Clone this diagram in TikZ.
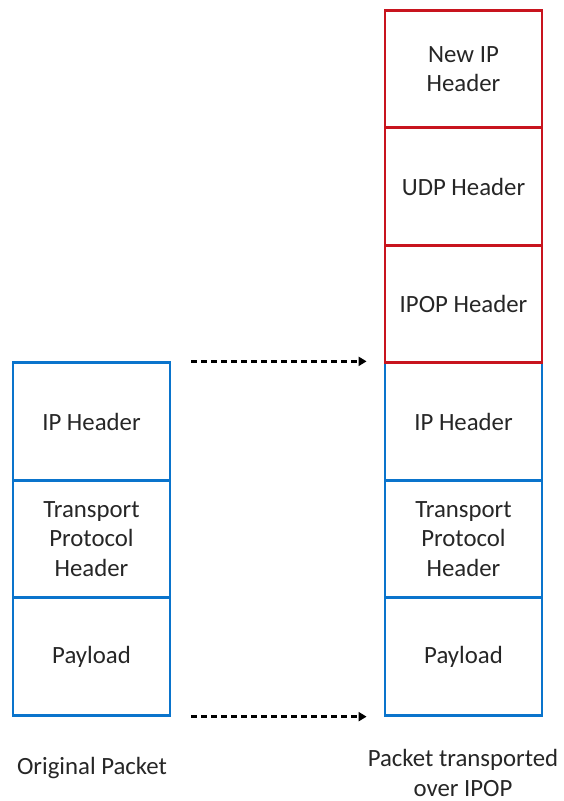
\documentclass[tikz,border=0pt]{standalone}
\usepackage{fontspec}
\setmainfont{Carlito}
\usetikzlibrary{arrows.meta}
\definecolor{boxblue}{RGB}{10,116,204}
\definecolor{boxred}{RGB}{200,20,30}
\definecolor{txt}{RGB}{38,38,38}
\begin{document}
\begin{tikzpicture}[x=1pt,y=-1pt,
  cell/.style={draw, line width=2.8pt, minimum width=157pt, minimum height=117.5pt, inner sep=0pt, align=center, text=txt, font=\fontsize{24.8}{29.5}\selectfont},
  bluecell/.style={cell, draw=boxblue},
  redcell/.style={cell, draw=boxred},
  lbl/.style={align=center, text=txt, font=\fontsize{24.8}{29.5}\selectfont},
  dasharrow/.style={line width=2.8pt, dash pattern=on 6pt off 4pt, -{Triangle[length=8pt,width=9pt]}}
]
\useasboundingbox (0,0) rectangle (563,801);
% original packet
\node[bluecell] (oip) at (91.5,421.5) {IP Header};
\node[bluecell] (otp) at (91.5,539) {Transport\\Protocol\\Header};
\node[bluecell] (opl) at (91.5,656.5) {Payload};
% transported packet
\node[bluecell] (tip) at (463.5,421.5) {IP Header};
\node[bluecell] (ttp) at (463.5,539) {Transport\\Protocol\\Header};
\node[bluecell] (tpl) at (463.5,656.5) {Payload};
\node[redcell] (nip) at (463.5,69) {New IP\\Header};
\node[redcell] (udp) at (463.5,186.5) {UDP Header};
\node[redcell] (ipop) at (463.5,304) {IPOP Header};
% arrows
\draw[dasharrow, shorten <=20pt, shorten >=17pt] (oip.north east) -- (tip.north west);
\draw[dasharrow, shorten <=20pt, shorten >=17pt] (opl.south east) -- (tpl.south west);
% labels
\node[lbl] (l1) at (92,768) {Original Packet};
\node[lbl] (l2) at (463,773) {Packet transported\\over IPOP};
\end{tikzpicture}
\end{document}
